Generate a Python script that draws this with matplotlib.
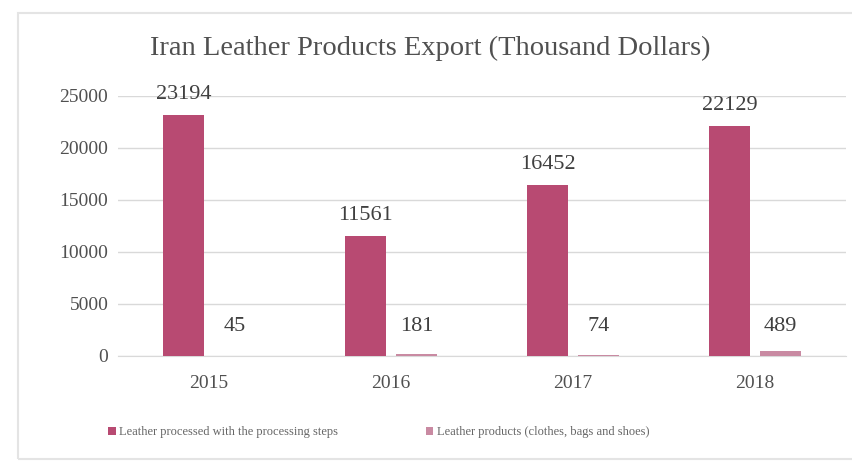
import numpy as np
import matplotlib.pyplot as plt
from matplotlib.patches import Rectangle

# chart data
years = ["2015", "2016", "2017", "2018"]
leather_processed = [23194, 11561, 16452, 22129]
leather_products = [45, 181, 74, 489]
series_names = ["Leather processed with the processing steps",
                "Leather products (clothes, bags and shoes)"]
y_ticks = [0, 5000, 10000, 15000, 20000, 25000]

plt.rcParams['font.family'] = ['Liberation Serif', 'DejaVu Serif']

fig = plt.figure(figsize=(8.53, 4.62), dpi=100)
ax = fig.add_axes([118 / 853, 1 - 356 / 462, (846 - 118) / 853, (356 - 96) / 462])

# light frame around the chart area
fig.patches.append(Rectangle((18 / 853, 3 / 462), 0.99, 0.965, transform=fig.transFigure,
                             fill=False, edgecolor="#e4e4e4", linewidth=1.5))

x = np.arange(len(years))
width = 0.225
offset = 0.14
bars1 = ax.bar(x - offset, leather_processed, width, color="#b84a72", label=series_names[0], zorder=3)
bars2 = ax.bar(x + offset, leather_products, width, color="#c98aa2", label=series_names[1], zorder=3)

for b, v in zip(bars1, leather_processed):
    ax.text(b.get_x() + b.get_width() / 2, v + 1000, str(v), ha="center", va="bottom",
            fontsize=16, color="#404040", zorder=4)
for b, v in zip(bars2, leather_products):
    ax.text(b.get_x() + b.get_width() / 2, 1900, str(v), ha="center", va="bottom",
            fontsize=16, color="#404040", zorder=4)

ax.set_xlim(-0.5, len(years) - 0.5)
ax.set_ylim(0, 25000)
ax.set_yticks(y_ticks)
ax.set_xticks(x)
ax.set_xticklabels(years)
ax.tick_params(axis="both", length=0, labelsize=14, labelcolor="#505050")
ax.tick_params(axis="y", pad=7)
ax.tick_params(axis="x", pad=14)
ax.grid(axis="y", color="#d9d9d9", linewidth=1, zorder=0)
for s in ["top", "right", "left"]:
    ax.spines[s].set_visible(False)
ax.spines["bottom"].set_color("#d9d9d9")

fig.text(430 / 853, 1 - 48 / 462, "Iran Leather Products Export (Thousand Dollars)",
         ha="center", va="center", fontsize=20.5, color="#505050")

fig.legend(loc="center", bbox_to_anchor=(379 / 853, 1 - 432 / 462), ncol=2, frameon=False,
           fontsize=9, labelcolor="#666666", handlelength=0.6, handleheight=0.6,
           handletextpad=0.3, columnspacing=7)

fig.savefig("out.png", dpi=100, facecolor="white")
